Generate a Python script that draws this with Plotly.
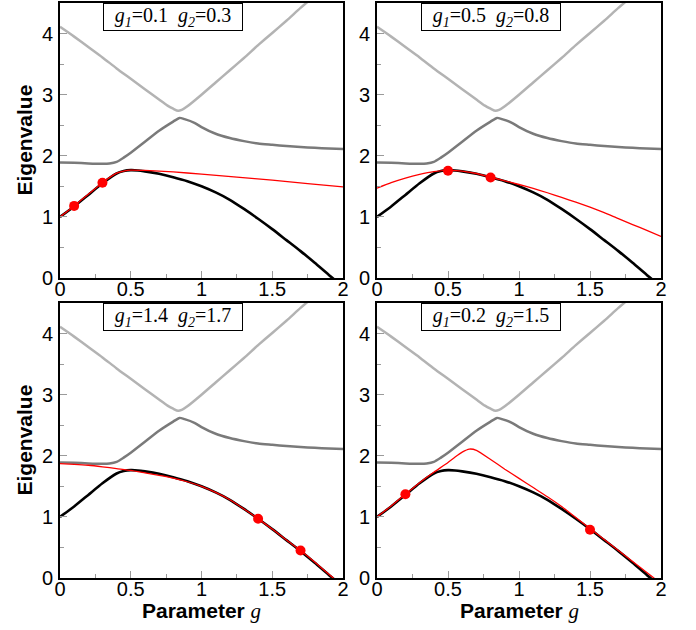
import plotly.graph_objects as go

# ---------------- data ----------------
g_e0 = [0, 0.1, 0.2, 0.3, 0.4, 0.45, 0.5, 0.55, 0.6, 0.7, 0.8, 0.9, 1.0, 1.1, 1.2, 1.3, 1.4, 1.5, 1.6, 1.7, 1.8, 1.9, 2.0]
e0 = [1.0, 1.17, 1.36, 1.55, 1.71, 1.75, 1.765, 1.76, 1.745, 1.705, 1.65, 1.585, 1.50, 1.40, 1.28, 1.13, 0.97, 0.80, 0.62, 0.44, 0.25, 0.05, -0.14]

g_e1 = [0, 0.1, 0.2, 0.3, 0.35, 0.4, 0.45, 0.5, 0.6, 0.7, 0.8, 0.845, 0.88, 0.95, 1.0, 1.1, 1.2, 1.3, 1.4, 1.5, 1.6, 1.7, 1.8, 1.9, 2.0]
e1 = [1.89, 1.885, 1.875, 1.87, 1.875, 1.90, 1.97, 2.05, 2.23, 2.41, 2.56, 2.62, 2.60, 2.54, 2.47, 2.36, 2.29, 2.24, 2.20, 2.18, 2.16, 2.145, 2.13, 2.12, 2.11]

g_e2 = [0, 0.1, 0.2, 0.3, 0.4, 0.5, 0.6, 0.7, 0.76, 0.8, 0.835, 0.86, 0.9, 1.0, 1.1, 1.2, 1.3, 1.4, 1.5, 1.6, 1.7, 1.8, 1.9, 2.0]
e2 = [4.11, 3.95, 3.78, 3.61, 3.43, 3.26, 3.09, 2.92, 2.82, 2.77, 2.735, 2.75, 2.81, 3.0, 3.2, 3.4, 3.6, 3.81, 4.01, 4.21, 4.42, 4.62, 4.83, 5.03]

# red approximations, one per panel
g_r1 = [0, 0.1, 0.2, 0.3, 0.4, 0.45, 0.5, 0.6, 0.8, 1.0, 1.25, 1.5, 1.75, 2.0]
r1 = [1.0, 1.18, 1.37, 1.56, 1.715, 1.75, 1.765, 1.76, 1.735, 1.70, 1.65, 1.60, 1.545, 1.49]

g_r2 = [0, 0.1, 0.2, 0.3, 0.4, 0.5, 0.6, 0.7, 0.8, 0.9, 1.0, 1.1, 1.2, 1.3, 1.4, 1.5, 1.6, 1.7, 1.8, 1.9, 2.0]
r2 = [1.47, 1.56, 1.635, 1.695, 1.74, 1.76, 1.75, 1.71, 1.65, 1.59, 1.53, 1.465, 1.395, 1.32, 1.24, 1.16, 1.07, 0.97, 0.875, 0.78, 0.68]

g_r3 = [0, 0.1, 0.2, 0.3, 0.4, 0.5, 0.6, 0.7, 0.8, 0.9, 1.0, 1.1, 1.2, 1.3, 1.4, 1.5, 1.6, 1.7, 1.8, 1.9, 2.0]
r3 = [1.87, 1.86, 1.845, 1.82, 1.79, 1.76, 1.72, 1.68, 1.635, 1.575, 1.50, 1.40, 1.28, 1.13, 0.97, 0.80, 0.62, 0.45, 0.26, 0.06, -0.13]

g_r4 = [0, 0.1, 0.2, 0.3, 0.4, 0.5, 0.55, 0.6, 0.65, 0.7, 0.8, 0.9, 1.0, 1.1, 1.2, 1.3, 1.4, 1.5, 1.6, 1.7, 1.8, 1.9, 2.0]
r4 = [1.0, 1.18, 1.37, 1.56, 1.73, 1.89, 1.98, 2.06, 2.11, 2.09, 1.94, 1.78, 1.63, 1.48, 1.33, 1.17, 0.99, 0.81, 0.63, 0.45, 0.27, 0.09, -0.09]

# expansion points (red dots)
dots_g = [[0.1, 0.3], [0.5, 0.8], [1.4, 1.7], [0.2, 1.5]]
dots_v = [[1.18, 1.56], [1.755, 1.645], [0.97, 0.45], [1.37, 0.79]]

panel_labels = [("1", "0.1", "2", "0.3"), ("1", "0.5", "2", "0.8"),
                ("1", "1.4", "2", "1.7"), ("1", "0.2", "2", "1.5")]

x_ticks = [0, 0.5, 1, 1.5, 2]
x_ticktext = ["0", "0.5", "1", "1.5", "2"]
y_ticks = [0, 1, 2, 3, 4]
y_ticktext = ["0", "1", "2", "3", "4"]

red_g = [g_r1, g_r2, g_r3, g_r4]
red_v = [r1, r2, r3, r4]

# ---------------- figure ----------------
fig = go.Figure()

W, H = 696, 630
ml, mr, mt, mb = 60, 35, 3, 52
pw, ph = W - ml - mr, H - mt - mb

x_dom = [[0, (343 - 60) / pw], [(377 - 60) / pw, 1]]
y_dom = [[(578 - 278) / ph, 1], [0, (578 - 303) / ph]]

panels = [(0, 0), (1, 0), (0, 1), (1, 1)]

SERIF = "Liberation Serif, Times New Roman, serif"
SANS = "Liberation Sans, Arial, Helvetica, sans-serif"

for i, (cx, cy) in enumerate(panels):
    n = "" if i == 0 else str(i + 1)
    xa, ya = "x" + n, "y" + n
    common = dict(xaxis=xa, yaxis=ya, showlegend=False, hoverinfo="skip")
    fig.add_trace(go.Scatter(x=g_e2, y=e2, mode="lines",
                             line=dict(color="#b3b3b3", width=2.5, shape="spline", smoothing=0.6), **common))
    fig.add_trace(go.Scatter(x=g_e1, y=e1, mode="lines",
                             line=dict(color="#7a7a7a", width=2.5, shape="spline", smoothing=0.6), **common))
    fig.add_trace(go.Scatter(x=g_e0, y=e0, mode="lines",
                             line=dict(color="#000000", width=2.6, shape="spline", smoothing=0.6), **common))
    fig.add_trace(go.Scatter(x=red_g[i], y=red_v[i], mode="lines",
                             line=dict(color="#ff0000", width=1.3, shape="spline", smoothing=0.5), **common))
    fig.add_trace(go.Scatter(x=dots_g[i], y=dots_v[i], mode="markers",
                             marker=dict(color="#ff0000", size=10), **common))

    axis_common = dict(showline=True, linecolor="black", linewidth=1.6, mirror=True,
                       showgrid=False, zeroline=False, ticks="inside", ticklen=7,
                       tickcolor="#9a9a9a", tickwidth=1, automargin=False,
                       tickfont=dict(family=SANS, size=20, color="black"))
    fig.layout["xaxis" + n] = dict(
        domain=x_dom[cx], range=[0, 2], anchor=ya,
        tickvals=x_ticks, ticktext=x_ticktext,
        minor=dict(ticks="inside", ticklen=4, dtick=0.25, tickcolor="#9a9a9a", tickwidth=1),
        ticklabelstandoff=-8,
        **axis_common)
    fig.layout["yaxis" + n] = dict(
        domain=y_dom[cy], range=[0, 4.5], anchor=xa,
        tickvals=y_ticks, ticktext=y_ticktext,
        minor=dict(ticks="inside", ticklen=4, dtick=0.5, tickcolor="#9a9a9a", tickwidth=1),
        ticklabelstandoff=1,
        **axis_common)

    s1, v1, s2, v2 = panel_labels[i]
    txt = (f"<i>g</i><sub><i>{s1}</i></sub>={v1}\u00a0\u00a0"
           f"<i>g</i><sub><i>{s2}</i></sub>={v2}")
    fig.add_annotation(text=txt, xref=xa + " domain", yref=ya + " domain",
                       x=0.4, y=1, xanchor="center", yanchor="top", showarrow=False,
                       font=dict(family=SERIF, size=20, color="black"),
                       bgcolor="white", bordercolor="black", borderwidth=1,
                       borderpad=2, width=134, height=22)

# axis titles
for cy in range(2):
    yc = (sum(y_dom[cy]) / 2)
    fig.add_annotation(text="<b>Eigenvalue</b>", xref="paper", yref="paper",
                       x=(24 - ml) / pw, y=yc, textangle=-90, showarrow=False,
                       xanchor="center", yanchor="middle",
                       font=dict(family=SANS, size=21, color="black"))
for cx in range(2):
    xc = sum(x_dom[cx]) / 2
    fig.add_annotation(text="<b>Parameter</b> <span style=\"font-family:'Liberation Serif'\"><i>g</i></span>",
                       xref="paper", yref="paper",
                       x=xc, y=(578 - 611) / ph, showarrow=False,
                       xanchor="center", yanchor="middle",
                       font=dict(family=SANS, size=21, color="black"))

fig.update_layout(width=W, height=H, margin=dict(l=ml, r=mr, t=mt, b=mb, autoexpand=False),
                  plot_bgcolor="white", paper_bgcolor="white")

fig.write_html("out.html", config={"displayModeBar": False},
               post_script="document.body.style.margin='0';document.body.style.padding='0';")
